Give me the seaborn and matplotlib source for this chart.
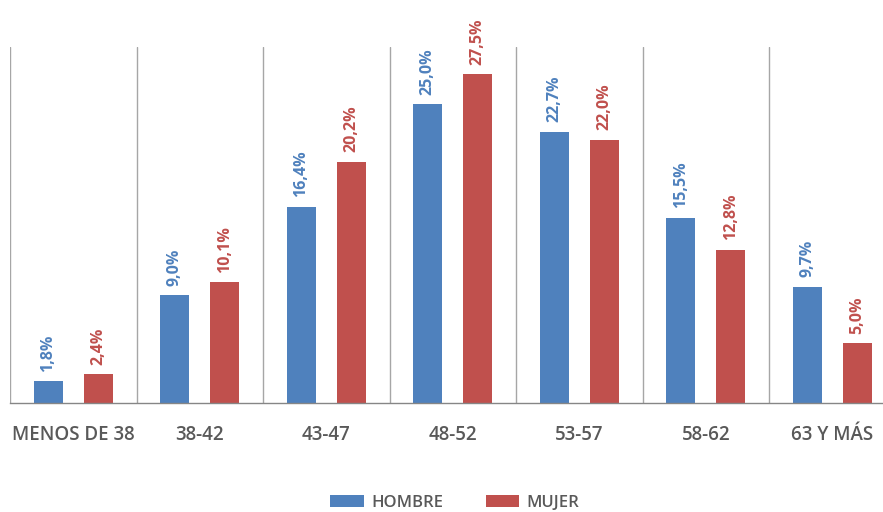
import matplotlib
matplotlib.use("Agg")
import matplotlib.pyplot as plt
import seaborn as sns
import pandas as pd
from matplotlib.patches import Patch

categories = ["MENOS DE 38", "38-42", "43-47", "48-52", "53-57", "58-62", "63 Y MÁS"]
hombre = [1.8, 9.0, 16.4, 25.0, 22.7, 15.5, 9.7]
mujer = [2.4, 10.1, 20.2, 27.5, 22.0, 12.8, 5.0]
series_names = ["HOMBRE", "MUJER"]
colors = ["#4F81BD", "#C0504D"]

sns.set_style("white")
plt.rcParams["font.family"] = ["Open Sans", "DejaVu Sans"]

df = pd.DataFrame({
    "cat": categories * 2,
    "sexo": [series_names[0]] * len(categories) + [series_names[1]] * len(categories),
    "val": hombre + mujer,
})

fig = plt.figure(figsize=(8.83, 5.12), dpi=100)
ax = fig.add_axes([10 / 883, 109 / 512, 885.5 / 883, 356 / 512])

sns.barplot(data=df, x="cat", y="val", hue="sexo", order=categories,
            hue_order=series_names, palette=colors, width=0.792, gap=0.42,
            saturation=1, linewidth=0, ax=ax, legend=False)

ax.set_ylim(0, 29.8)
ax.set_xlim(-0.5, len(categories) - 0.5)
for b in range(len(categories)):
    ax.axvline(b - 0.5, color="#A6A6A6", lw=1.0, zorder=0)

for s in ["top", "right", "left"]:
    ax.spines[s].set_visible(False)
ax.spines["bottom"].set_color("#868686")
ax.spines["bottom"].set_linewidth(1.0)
ax.set_yticks([])
ax.set_xlabel("")
ax.set_ylabel("")
ax.tick_params(axis="x", length=0, pad=16, labelsize=13.5, labelcolor="#595959")
for lbl in ax.get_xticklabels():
    lbl.set_fontweight("semibold")

for container, col in zip(ax.containers, colors):
    for patch in container:
        h = patch.get_height()
        x = patch.get_x() + patch.get_width() / 2
        ax.annotate(f"{h:.1f}%".replace(".", ","), (x, h), xytext=(0, 7),
                    textcoords="offset points", rotation=90, ha="center",
                    va="bottom", color=col, fontsize=11.5, fontweight="bold")

handles = [Patch(facecolor=c, edgecolor="none") for c in colors]
leg = fig.legend(handles, series_names, loc="center", bbox_to_anchor=(0.515, 1 - 503 / 512),
                 ncol=2, frameon=False, handlelength=2.0,
                 handleheight=0.75, handletextpad=0.45, columnspacing=2.55,
                 prop={"size": 12, "weight": "semibold"})
for t in leg.get_texts():
    t.set_color("#595959")

fig.savefig("out.png", dpi=100)
